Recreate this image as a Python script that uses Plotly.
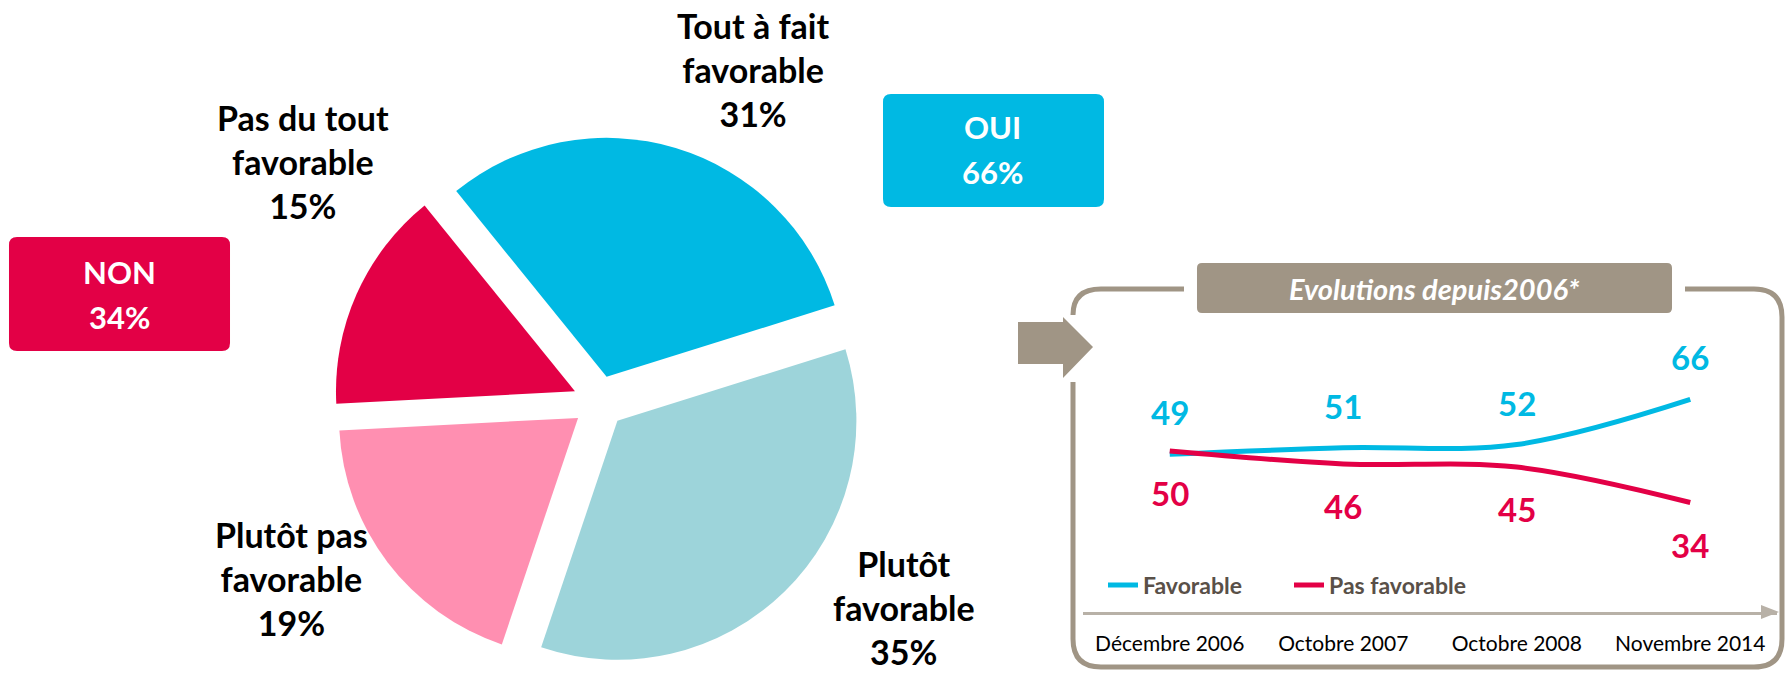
import plotly.graph_objects as go

W, H = 1788, 673

# ---------------- data ----------------
pie_labels = ["Tout à fait favorable", "Plutôt favorable", "Plutôt pas favorable", "Pas du tout favorable"]
pie_values = [31, 35, 19, 15]
pie_colors = ["#00B9E3", "#9DD4DA", "#FF8FB1", "#E30046"]

periods = ["Décembre 2006", "Octobre 2007", "Octobre 2008", "Novembre 2014"]
favorable = [49, 51, 52, 66]
pas_favorable = [50, 46, 45, 34]

title_text = "Evolutions depuis2006*"

CYAN = "#00B9E3"
RED = "#E30046"
GRAY = "#A09585"
AXGRAY = "#B8B1A7"
FONT = "Lato"


def px(x):
    return x / W


def py(y):
    return 1 - y / H


def pt(x, y):
    return f"{px(x):.5f},{py(y):.5f}"


def rrect(x0, y0, x1, y1, r):
    return (f"M {pt(x0 + r, y0)} L {pt(x1 - r, y0)} Q {pt(x1, y0)} {pt(x1, y0 + r)} "
            f"L {pt(x1, y1 - r)} Q {pt(x1, y1)} {pt(x1 - r, y1)} L {pt(x0 + r, y1)} "
            f"Q {pt(x0, y1)} {pt(x0, y1 - r)} L {pt(x0, y0 + r)} Q {pt(x0, y0)} {pt(x0 + r, y0)} Z")


fig = go.Figure()

# ---------------- pie ----------------
cx, cy, R, pull = 599, 402, 239, 0.11
half = R * (1 + pull)
fig.add_trace(go.Pie(
    labels=pie_labels, values=pie_values,
    marker=dict(colors=pie_colors, line=dict(width=0)),
    sort=False, direction="clockwise", rotation=-39,
    pull=[pull] * len(pie_values), textinfo="none", showlegend=False,
    domain=dict(x=[px(cx - half), px(cx + half)], y=[py(cy + half), py(cy - half)]),
))

# ---------------- lines ----------------
fig.add_trace(go.Scatter(x=periods, y=favorable, name="Favorable", mode="lines",
                         line=dict(color=CYAN, width=5, shape="spline", smoothing=1.0)))
fig.add_trace(go.Scatter(x=periods, y=pas_favorable, name="Pas favorable", mode="lines",
                         line=dict(color=RED, width=5, shape="spline", smoothing=1.0)))

annotations = []
for vals, col, shift in ((favorable, CYAN, 42), (pas_favorable, RED, -42)):
    for p, v in zip(periods, vals):
        annotations.append(dict(x=p, y=v, xref="x", yref="y", text=str(v), showarrow=False,
                                yshift=shift, font=dict(family=FONT, size=33, color=col, weight="bold")))

# pie labels
label_pos = {
    "Tout à fait favorable": (753, 70),
    "Plutôt favorable": (904, 607),
    "Plutôt pas favorable": (291, 578),
    "Pas du tout favorable": (303, 161),
}
for lab, v in zip(pie_labels, pie_values):
    a, b = lab.rsplit(" ", 1)
    x, y = label_pos[lab]
    annotations.append(dict(x=px(x), y=py(y), xref="paper", yref="paper", showarrow=False,
                            text=f"{a}<br>{b}<br>{v}%", align="center",
                            xanchor="center", yanchor="middle",
                            font=dict(family=FONT, size=34, color="black", weight="bold")))

oui = pie_values[0] + pie_values[1]
non = pie_values[2] + pie_values[3]
for txt, x, y in (("OUI", 993, 127), (f"{oui}%", 993, 172), ("NON", 119, 272), (f"{non}%", 119, 317)):
    annotations.append(dict(x=px(x), y=py(y), xref="paper", yref="paper", showarrow=False, text=txt,
                            xanchor="center", yanchor="middle",
                            font=dict(family=FONT, size=31, color="white", weight="bold")))

annotations.append(dict(x=px(1434), y=py(288), xref="paper", yref="paper", showarrow=False,
                        text=title_text, xanchor="center", yanchor="middle",
                        font=dict(family=FONT, size=29, color="white", weight="bold", style="italic")))

# ---------------- shapes ----------------
shapes = [
    dict(type="path", xref="paper", yref="paper", path=rrect(9, 237, 230, 351, 8),
         fillcolor=RED, line=dict(width=0), layer="below"),
    dict(type="path", xref="paper", yref="paper", path=rrect(883, 94, 1104, 207, 8),
         fillcolor=CYAN, line=dict(width=0), layer="below"),
    dict(type="path", xref="paper", yref="paper", path=rrect(1197, 263, 1672, 313, 5),
         fillcolor=GRAY, line=dict(width=0), layer="below"),
    dict(type="path", xref="paper", yref="paper",
         path=f"M {pt(1184, 289)} L {pt(1101, 289)} Q {pt(1073, 289)} {pt(1073, 315)}",
         line=dict(width=5, color=GRAY)),
    dict(type="path", xref="paper", yref="paper",
         path=(f"M {pt(1073, 382)} L {pt(1073, 639)} Q {pt(1073, 667)} {pt(1101, 667)} "
               f"L {pt(1754, 667)} Q {pt(1782, 667)} {pt(1782, 639)} L {pt(1782, 317)} "
               f"Q {pt(1782, 289)} {pt(1754, 289)} L {pt(1685, 289)}"),
         line=dict(width=5, color=GRAY)),
    dict(type="path", xref="paper", yref="paper",
         path=(f"M {pt(1018, 322)} L {pt(1063, 322)} L {pt(1063, 317)} L {pt(1093, 347)} "
               f"L {pt(1063, 378)} L {pt(1063, 364)} L {pt(1018, 364)} Z"),
         fillcolor=GRAY, line=dict(width=0)),
    dict(type="path", xref="paper", yref="paper",
         path=f"M {pt(1761, 605)} L {pt(1779, 612)} L {pt(1761, 619)} Z",
         fillcolor=AXGRAY, line=dict(width=0)),
]

fig.update_layout(
    width=W, height=H, margin=dict(l=0, r=0, t=0, b=0),
    paper_bgcolor="white", plot_bgcolor="rgba(0,0,0,0)",
    xaxis=dict(domain=[px(1083), px(1777)], type="category", range=[-0.5, 3.5],
               showline=True, linecolor=AXGRAY, linewidth=3, showgrid=False, zeroline=False,
               ticks="outside", ticklen=11, tickcolor="rgba(0,0,0,0)",
               tickfont=dict(family=FONT, size=21, color="black"), fixedrange=True),
    yaxis=dict(domain=[py(612), py(290)], range=[0, 100], visible=False, fixedrange=True),
    showlegend=True,
    legend=dict(orientation="h", x=px(1103), xanchor="left", y=py(585), yanchor="middle",
                bgcolor="rgba(0,0,0,0)", entrywidth=141, entrywidthmode="pixels",
                font=dict(family=FONT, size=23, color="#595048", weight="bold"),
                itemclick=False, itemdoubleclick=False),
    annotations=annotations, shapes=shapes,
)

fig.write_html("out.html", config={"displayModeBar": False},
               post_script="document.body.style.margin='0';")
